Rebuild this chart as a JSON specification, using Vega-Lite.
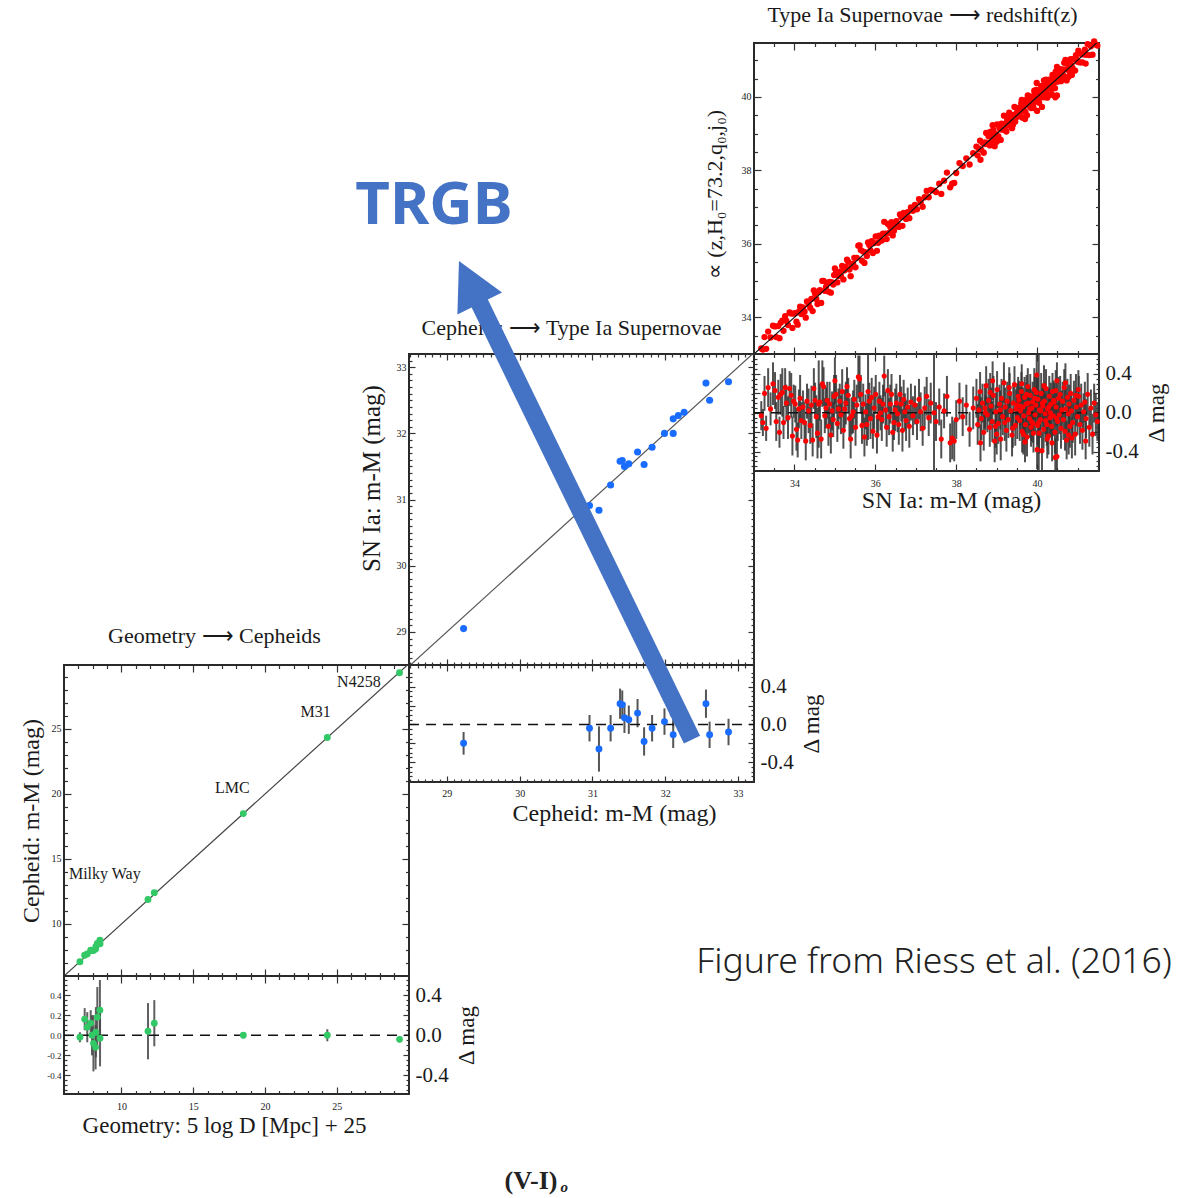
{
"$schema": "https://vega.github.io/schema/vega-lite/v6.json",
"background": "white",
"padding": {"left": 18, "top": 3, "right": 5, "bottom": 5},
"config": {
  "view": {"stroke": null},
  "font": "Liberation Serif",
  "axis": {"domain": false, "grid": false, "labelFont": "Liberation Serif", "labelFontSize": 10, "labelColor": "#1a1a1a", "tickColor": "#333333", "tickWidth": 1.2, "titleFont": "Liberation Serif", "titleFontWeight": "normal", "titleColor": "#1a1a1a", "titleFontSize": 24, "labelOverlap": false, "labelBound": false, "labelFlush": false},
  "title": {"font": "Liberation Serif", "fontWeight": "normal", "fontSize": 22, "color": "#1a1a1a"}
},
"datasets": {
  "geo": [
    {"x":7.11,"y":7.09,"r":-0.02,"e":0.05},
    {"x":7.44,"y":7.6,"r":0.16,"e":0.11},
    {"x":7.62,"y":7.7,"r":0.08,"e":0.15},
    {"x":7.86,"y":7.98,"r":0.12,"e":0.13},
    {"x":7.95,"y":7.95,"r":0.0,"e":0.2},
    {"x":8.05,"y":7.97,"r":-0.08,"e":0.28},
    {"x":8.2,"y":8.08,"r":-0.12,"e":0.22},
    {"x":8.22,"y":8.25,"r":0.03,"e":0.25},
    {"x":8.32,"y":8.5,"r":0.18,"e":0.3},
    {"x":8.5,"y":8.75,"r":0.25,"e":0.3},
    {"x":8.51,"y":8.48,"r":-0.03,"e":0.28},
    {"x":11.85,"y":11.89,"r":0.04,"e":0.28},
    {"x":12.29,"y":12.41,"r":0.12,"e":0.23},
    {"x":18.49,"y":18.49,"r":0.0,"e":0.03},
    {"x":24.34,"y":24.34,"r":0.0,"e":0.06},
    {"x":29.37,"y":29.33,"r":-0.04,"e":0.03}
  ],
  "ceph": [
    {"x":29.23,"y":29.05,"r":-0.2,"e":0.12},
    {"x":30.96,"y":30.91,"r":-0.04,"e":0.14},
    {"x":31.09,"y":30.84,"r":-0.26,"e":0.24},
    {"x":31.25,"y":31.22,"r":-0.04,"e":0.14},
    {"x":31.38,"y":31.58,"r":0.22,"e":0.16},
    {"x":31.41,"y":31.59,"r":0.21,"e":0.15},
    {"x":31.44,"y":31.5,"r":0.07,"e":0.16},
    {"x":31.5,"y":31.54,"r":0.05,"e":0.15},
    {"x":31.62,"y":31.72,"r":0.12,"e":0.15},
    {"x":31.71,"y":31.53,"r":-0.18,"e":0.15},
    {"x":31.82,"y":31.79,"r":-0.04,"e":0.14},
    {"x":31.99,"y":32.0,"r":0.03,"e":0.14},
    {"x":32.11,"y":32.22,"r":0.11,"e":0.14},
    {"x":32.11,"y":32.0,"r":-0.11,"e":0.14},
    {"x":32.18,"y":32.27,"r":0.09,"e":0.14},
    {"x":32.26,"y":32.32,"r":0.06,"e":0.14},
    {"x":32.56,"y":32.76,"r":0.22,"e":0.15},
    {"x":32.61,"y":32.5,"r":-0.11,"e":0.14},
    {"x":32.87,"y":32.78,"r":-0.08,"e":0.14}
  ],
  "sn": [
    {"x":33.18,"y":33.15,"r":-0.03,"e":0.15},{"x":33.22,"y":33.12,"r":-0.1,"e":0.14},{"x":33.26,"y":33.46,"r":0.2,"e":0.18},{"x":33.3,"y":33.14,"r":-0.16,"e":0.13},
    {"x":33.35,"y":33.61,"r":0.26,"e":0.2},{"x":33.41,"y":33.45,"r":0.04,"e":0.17},{"x":33.47,"y":33.77,"r":0.3,"e":0.22},{"x":33.52,"y":33.75,"r":0.23,"e":0.19},
    {"x":33.55,"y":33.46,"r":-0.09,"e":0.2},{"x":33.6,"y":33.76,"r":0.16,"e":0.18},{"x":33.63,"y":33.43,"r":-0.2,"e":0.16},{"x":33.66,"y":33.85,"r":0.19,"e":0.21},
    {"x":33.7,"y":33.91,"r":0.21,"e":0.25},{"x":33.73,"y":33.63,"r":-0.1,"e":0.17},{"x":33.77,"y":34.03,"r":0.26,"e":0.2},{"x":33.8,"y":33.9,"r":0.1,"e":0.19},
    {"x":33.84,"y":33.79,"r":-0.05,"e":0.22},{"x":33.88,"y":34.13,"r":0.25,"e":0.18},{"x":33.92,"y":34.1,"r":0.18,"e":0.23},{"x":33.95,"y":33.71,"r":-0.24,"e":0.2},
    {"x":33.98,"y":34.1,"r":0.12,"e":0.17},{"x":34.02,"y":34.11,"r":0.09,"e":0.19},
    {"x":34.05,"y":33.88,"r":-0.17,"e":0.22},{"x":34.08,"y":33.8,"r":-0.28,"e":0.18},{"x":34.11,"y":34.15,"r":0.04,"e":0.2},{"x":34.14,"y":34.29,"r":0.15,"e":0.24},
    {"x":34.17,"y":34.09,"r":-0.08,"e":0.19},{"x":34.21,"y":34.27,"r":0.06,"e":0.17},{"x":34.25,"y":34.15,"r":-0.1,"e":0.21},{"x":34.28,"y":33.99,"r":-0.29,"e":0.2},
    {"x":34.31,"y":34.43,"r":0.12,"e":0.18},{"x":34.35,"y":34.37,"r":0.02,"e":0.23},{"x":34.39,"y":34.26,"r":-0.13,"e":0.19},{"x":34.42,"y":34.5,"r":0.08,"e":0.2},
    {"x":34.45,"y":34.17,"r":-0.28,"e":0.17},{"x":34.48,"y":34.73,"r":0.25,"e":0.21},{"x":34.51,"y":34.64,"r":0.13,"e":0.18},{"x":34.54,"y":34.5,"r":-0.04,"e":0.22},
    {"x":34.57,"y":34.36,"r":-0.21,"e":0.26},{"x":34.6,"y":34.69,"r":0.09,"e":0.45},{"x":34.63,"y":34.74,"r":0.11,"e":0.19},{"x":34.66,"y":34.39,"r":-0.27,"e":0.2},
    {"x":34.69,"y":34.99,"r":0.3,"e":0.24},{"x":34.72,"y":34.99,"r":0.27,"e":0.2},{"x":34.75,"y":34.72,"r":-0.03,"e":0.18},{"x":34.78,"y":34.83,"r":0.05,"e":0.21},
    {"x":34.81,"y":34.94,"r":0.13,"e":0.19},{"x":34.84,"y":34.7,"r":-0.14,"e":0.2},{"x":34.87,"y":34.96,"r":0.09,"e":0.23},{"x":34.9,"y":34.67,"r":-0.23,"e":0.19},
    {"x":34.93,"y":34.95,"r":0.02,"e":0.2},{"x":34.96,"y":34.89,"r":-0.07,"e":0.18},{"x":34.98,"y":35.15,"r":0.17,"e":0.22},{"x":35.0,"y":35.33,"r":0.33,"e":0.24},
    {"x":35.03,"y":35.22,"r":0.19,"e":0.2},{"x":35.06,"y":34.95,"r":-0.11,"e":0.19},{"x":35.09,"y":35.13,"r":0.04,"e":0.21},{"x":35.12,"y":35.24,"r":0.12,"e":0.18},
    {"x":35.15,"y":35.13,"r":-0.02,"e":0.2},{"x":35.18,"y":35.4,"r":0.22,"e":0.23},{"x":35.21,"y":35.03,"r":-0.18,"e":0.19},{"x":35.24,"y":35.28,"r":0.04,"e":0.2},
    {"x":35.27,"y":35.37,"r":0.1,"e":0.22},{"x":35.3,"y":35.57,"r":0.27,"e":0.2},{"x":35.33,"y":35.51,"r":0.18,"e":0.18},{"x":35.36,"y":35.3,"r":-0.06,"e":0.21},
    {"x":35.39,"y":35.12,"r":-0.27,"e":0.2},{"x":35.42,"y":35.39,"r":-0.03,"e":0.19},{"x":35.45,"y":35.46,"r":0.01,"e":0.22},{"x":35.48,"y":35.62,"r":0.14,"e":0.2},
    {"x":35.51,"y":35.36,"r":-0.15,"e":0.19},{"x":35.54,"y":35.62,"r":0.08,"e":0.21},{"x":35.58,"y":35.95,"r":0.37,"e":0.22},{"x":35.61,"y":35.96,"r":0.35,"e":0.24},
    {"x":35.64,"y":35.83,"r":0.19,"e":0.2},{"x":35.67,"y":35.54,"r":-0.13,"e":0.19},{"x":35.7,"y":35.79,"r":0.09,"e":0.21},{"x":35.73,"y":35.48,"r":-0.25,"e":0.2},
    {"x":35.76,"y":35.77,"r":0.01,"e":0.18},{"x":35.79,"y":35.67,"r":-0.12,"e":0.22},{"x":35.82,"y":36.04,"r":0.22,"e":0.5},{"x":35.85,"y":35.97,"r":0.12,"e":0.19},
    {"x":35.88,"y":35.82,"r":-0.06,"e":0.21},{"x":35.91,"y":36.07,"r":0.16,"e":0.2},{"x":35.94,"y":35.75,"r":-0.19,"e":0.18},{"x":35.97,"y":36.02,"r":0.05,"e":0.22},
    {"x":36.01,"y":36.2,"r":0.19,"e":0.2},{"x":36.04,"y":35.81,"r":-0.23,"e":0.19},{"x":36.07,"y":36.03,"r":-0.04,"e":0.21},{"x":36.1,"y":36.22,"r":0.12,"e":0.2},
    {"x":36.13,"y":36.13,"r":0.0,"e":0.18},{"x":36.16,"y":36.09,"r":-0.07,"e":0.22},{"x":36.19,"y":36.28,"r":0.09,"e":0.2},{"x":36.22,"y":36.6,"r":0.38,"e":0.21},
    {"x":36.25,"y":36.28,"r":0.03,"e":0.19},{"x":36.28,"y":36.13,"r":-0.15,"e":0.2},{"x":36.31,"y":36.54,"r":0.23,"e":0.22},{"x":36.34,"y":36.3,"r":-0.04,"e":0.19},
    {"x":36.37,"y":36.46,"r":0.09,"e":0.2},{"x":36.4,"y":36.59,"r":0.19,"e":0.21},{"x":36.43,"y":36.23,"r":-0.2,"e":0.2},{"x":36.46,"y":36.36,"r":-0.1,"e":0.18},
    {"x":36.49,"y":36.52,"r":0.03,"e":0.22},{"x":36.52,"y":36.62,"r":0.1,"e":0.2},{"x":36.55,"y":36.54,"r":-0.01,"e":0.19},{"x":36.58,"y":36.46,"r":-0.12,"e":0.21},
    {"x":36.61,"y":36.8,"r":0.19,"e":0.2},{"x":36.64,"y":36.73,"r":0.09,"e":0.18},{"x":36.67,"y":36.49,"r":-0.18,"e":0.22},{"x":36.7,"y":36.84,"r":0.14,"e":0.2},
    {"x":36.73,"y":36.74,"r":0.01,"e":0.19},{"x":36.76,"y":36.68,"r":-0.08,"e":0.21},{"x":36.8,"y":36.86,"r":0.06,"e":0.2},{"x":36.84,"y":36.7,"r":-0.14,"e":0.22},
    {"x":36.88,"y":36.99,"r":0.11,"e":0.19},{"x":36.93,"y":36.9,"r":-0.03,"e":0.2},
    {"x":36.98,"y":37.06,"r":0.08,"e":0.2},{"x":37.03,"y":36.94,"r":-0.09,"e":0.19},{"x":37.08,"y":37.22,"r":0.14,"e":0.21},{"x":37.12,"y":37.13,"r":0.01,"e":0.2},
    {"x":37.17,"y":37.01,"r":-0.16,"e":0.18},{"x":37.22,"y":37.27,"r":0.05,"e":0.22},{"x":37.27,"y":37.44,"r":0.17,"e":0.2},{"x":37.32,"y":37.27,"r":-0.05,"e":0.19},
    {"x":37.37,"y":37.47,"r":0.1,"e":0.21},{"x":37.45,"y":37.45,"r":0.0,"e":0.9},{"x":37.5,"y":37.41,"r":-0.09,"e":0.2},{"x":37.58,"y":37.64,"r":0.06,"e":0.19},
    {"x":37.63,"y":37.36,"r":-0.27,"e":0.2},{"x":37.7,"y":37.72,"r":0.02,"e":0.18},{"x":37.77,"y":37.94,"r":0.17,"e":0.21},{"x":37.85,"y":37.54,"r":-0.31,"e":0.2},
    {"x":37.9,"y":37.64,"r":-0.26,"e":0.22},{"x":37.95,"y":37.66,"r":-0.29,"e":0.21},{"x":38.0,"y":37.93,"r":-0.07,"e":0.2},{"x":38.08,"y":38.2,"r":0.12,"e":0.19},
    {"x":38.16,"y":38.12,"r":-0.04,"e":0.2},{"x":38.25,"y":38.33,"r":0.08,"e":0.21},{"x":38.33,"y":38.16,"r":-0.17,"e":0.18},{"x":38.42,"y":38.47,"r":0.05,"e":0.22},
    {"x":38.5,"y":38.65,"r":0.15,"e":0.2},{"x":38.53,"y":38.41,"r":-0.12,"e":0.21},{"x":38.56,"y":38.59,"r":0.03,"e":0.19},{"x":38.59,"y":38.81,"r":0.22,"e":0.2},
    {"x":38.62,"y":38.56,"r":-0.06,"e":0.22},{"x":38.65,"y":38.75,"r":0.1,"e":0.2},{"x":38.68,"y":38.48,"r":-0.2,"e":0.19},{"x":38.71,"y":38.76,"r":0.05,"e":0.21},
    {"x":38.74,"y":39.02,"r":0.28,"e":0.2},{"x":38.77,"y":38.75,"r":-0.02,"e":0.18},{"x":38.8,"y":38.93,"r":0.13,"e":0.22},{"x":38.83,"y":38.68,"r":-0.15,"e":0.2},
    {"x":38.86,"y":38.93,"r":0.07,"e":0.19},{"x":38.89,"y":38.8,"r":-0.09,"e":0.21},{"x":38.92,"y":39.1,"r":0.18,"e":0.2},{"x":38.95,"y":38.66,"r":-0.29,"e":0.22},
    {"x":38.98,"y":38.99,"r":0.01,"e":0.2},{"x":39.01,"y":39.25,"r":0.24,"e":0.19},{"x":39.04,"y":38.93,"r":-0.11,"e":0.21},{"x":39.07,"y":39.16,"r":0.09,"e":0.2},
    {"x":39.1,"y":38.83,"r":-0.27,"e":0.22},{"x":39.12,"y":39.27,"r":0.15,"e":0.2},{"x":39.15,"y":39.11,"r":-0.04,"e":0.19},{"x":39.18,"y":39.49,"r":0.31,"e":0.21},
    {"x":39.21,"y":39.27,"r":0.06,"e":0.2},{"x":39.24,"y":39.06,"r":-0.18,"e":0.22},{"x":39.26,"y":39.38,"r":0.12,"e":0.2},{"x":39.29,"y":39.22,"r":-0.07,"e":0.19},
    {"x":39.32,"y":39.52,"r":0.2,"e":0.21},{"x":39.35,"y":39.37,"r":0.02,"e":0.2},{"x":39.38,"y":39.15,"r":-0.23,"e":0.22},{"x":39.41,"y":39.51,"r":0.1,"e":0.2},
    {"x":39.44,"y":39.73,"r":0.29,"e":0.19},{"x":39.46,"y":39.33,"r":-0.13,"e":0.21},{"x":39.48,"y":39.52,"r":0.04,"e":0.2},{"x":39.51,"y":39.46,"r":-0.05,"e":0.22},
    {"x":39.53,"y":39.7,"r":0.17,"e":0.2},{"x":38.6,"y":38.29,"r":-0.31,"e":0.19},{"x":38.9,"y":39.23,"r":0.33,"e":0.2},{"x":39.0,"y":38.78,"r":-0.22,"e":0.21},
    {"x":38.72,"y":38.72,"r":0.0,"e":0.18},{"x":38.84,"y":39.05,"r":0.21,"e":0.2},{"x":38.97,"y":38.83,"r":-0.14,"e":0.22},{"x":39.09,"y":39.12,"r":0.03,"e":0.2},
    {"x":39.2,"y":39.1,"r":-0.1,"e":0.19},{"x":39.31,"y":39.57,"r":0.26,"e":0.21},{"x":39.4,"y":39.24,"r":-0.16,"e":0.2},{"x":39.5,"y":39.58,"r":0.08,"e":0.22},
    {"x":39.55,"y":39.68,"r":0.13,"e":0.2},{"x":39.57,"y":39.49,"r":-0.08,"e":0.21},{"x":39.59,"y":39.61,"r":0.02,"e":0.19},{"x":39.61,"y":39.83,"r":0.22,"e":0.2},
    {"x":39.63,"y":39.44,"r":-0.19,"e":0.22},{"x":39.65,"y":39.71,"r":0.06,"e":0.2},{"x":39.67,"y":39.64,"r":-0.03,"e":0.19},{"x":39.69,"y":39.85,"r":0.16,"e":0.21},
    {"x":39.71,"y":39.59,"r":-0.12,"e":0.2},{"x":39.73,"y":39.82,"r":0.09,"e":0.22},{"x":39.75,"y":39.5,"r":-0.25,"e":0.2},{"x":39.77,"y":40.04,"r":0.27,"e":0.19},
    {"x":39.79,"y":39.79,"r":0.0,"e":0.21},{"x":39.81,"y":39.75,"r":-0.06,"e":0.2},{"x":39.83,"y":40.01,"r":0.18,"e":0.22},{"x":39.85,"y":39.7,"r":-0.15,"e":0.2},
    {"x":39.87,"y":39.92,"r":0.05,"e":0.19},{"x":39.89,"y":40.0,"r":0.11,"e":0.21},{"x":39.91,"y":39.7,"r":-0.21,"e":0.2},{"x":39.93,"y":40.17,"r":0.24,"e":0.22},
    {"x":39.95,"y":39.93,"r":-0.02,"e":0.2},{"x":39.97,"y":40.05,"r":0.08,"e":0.19},{"x":39.99,"y":40.38,"r":0.39,"e":0.21},{"x":40.0,"y":39.62,"r":-0.38,"e":0.2},
    {"x":40.02,"y":40.16,"r":0.14,"e":0.22},{"x":40.04,"y":39.94,"r":-0.1,"e":0.9},{"x":40.06,"y":40.09,"r":0.03,"e":0.2},{"x":40.08,"y":40.01,"r":-0.07,"e":0.19},
    {"x":40.1,"y":40.3,"r":0.2,"e":0.21},{"x":40.12,"y":39.73,"r":-0.39,"e":0.2},{"x":40.14,"y":40.21,"r":0.07,"e":0.22},{"x":40.16,"y":39.99,"r":-0.17,"e":0.2},
    {"x":40.18,"y":40.3,"r":0.12,"e":0.19},{"x":40.2,"y":40.19,"r":-0.01,"e":0.21},{"x":40.22,"y":40.47,"r":0.25,"e":0.2},{"x":40.24,"y":40.12,"r":-0.12,"e":0.22},
    {"x":40.26,"y":40.3,"r":0.04,"e":0.2},{"x":40.28,"y":40.04,"r":-0.24,"e":0.19},{"x":40.3,"y":40.47,"r":0.17,"e":0.21},{"x":40.32,"y":40.27,"r":-0.05,"e":0.2},
    {"x":40.34,"y":40.43,"r":0.09,"e":0.22},{"x":40.36,"y":40.22,"r":-0.14,"e":0.2},{"x":40.38,"y":40.6,"r":0.22,"e":0.19},{"x":40.4,"y":40.37,"r":-0.03,"e":0.21},
    {"x":40.42,"y":40.53,"r":0.11,"e":0.2},{"x":40.44,"y":40.24,"r":-0.2,"e":0.22},{"x":40.45,"y":39.99,"r":-0.46,"e":0.2},{"x":40.47,"y":40.53,"r":0.06,"e":0.2},
    {"x":40.49,"y":40.82,"r":0.33,"e":0.19},{"x":40.49,"y":40.04,"r":-0.45,"e":0.21},{"x":40.51,"y":40.42,"r":-0.09,"e":0.2},{"x":40.53,"y":40.68,"r":0.15,"e":0.22},
    {"x":40.55,"y":40.53,"r":-0.02,"e":0.2},{"x":40.57,"y":40.76,"r":0.19,"e":0.19},{"x":40.59,"y":40.43,"r":-0.16,"e":0.21},{"x":40.61,"y":40.64,"r":0.03,"e":0.2},
    {"x":39.62,"y":39.92,"r":0.3,"e":0.2},{"x":39.7,"y":39.4,"r":-0.3,"e":0.21},{"x":39.78,"y":39.88,"r":0.1,"e":0.19},{"x":39.86,"y":39.77,"r":-0.09,"e":0.2},
    {"x":39.94,"y":40.09,"r":0.15,"e":0.22},{"x":40.01,"y":39.88,"r":-0.13,"e":0.2},{"x":40.09,"y":40.11,"r":0.02,"e":0.19},{"x":40.17,"y":40.45,"r":0.28,"e":0.21},
    {"x":40.25,"y":39.98,"r":-0.27,"e":0.2},{"x":40.33,"y":40.33,"r":0.0,"e":0.22},{"x":40.41,"y":40.54,"r":0.13,"e":0.2},{"x":40.48,"y":40.42,"r":-0.06,"e":0.19},
    {"x":39.58,"y":39.65,"r":0.07,"e":0.2},{"x":39.66,"y":39.44,"r":-0.22,"e":0.21},{"x":39.74,"y":39.93,"r":0.19,"e":0.2},{"x":39.82,"y":39.86,"r":0.04,"e":0.22},
    {"x":39.9,"y":39.79,"r":-0.11,"e":0.2},{"x":39.98,"y":40.19,"r":0.21,"e":0.19},{"x":40.05,"y":39.84,"r":-0.21,"e":0.21},{"x":40.13,"y":40.23,"r":0.1,"e":0.2},
    {"x":40.21,"y":40.13,"r":-0.08,"e":0.22},{"x":40.29,"y":40.35,"r":0.06,"e":0.2},{"x":40.37,"y":40.06,"r":-0.31,"e":0.19},{"x":40.46,"y":40.69,"r":0.23,"e":0.21},
    {"x":40.63,"y":40.75,"r":0.12,"e":0.2},{"x":40.65,"y":40.58,"r":-0.07,"e":0.21},{"x":40.67,"y":40.93,"r":0.26,"e":0.19},{"x":40.69,"y":40.5,"r":-0.19,"e":0.2},
    {"x":40.71,"y":40.75,"r":0.04,"e":0.22},{"x":40.73,"y":40.45,"r":-0.28,"e":0.2},{"x":40.75,"y":40.91,"r":0.16,"e":0.19},{"x":40.77,"y":40.76,"r":-0.01,"e":0.21},
    {"x":40.79,"y":40.88,"r":0.09,"e":0.2},{"x":40.81,"y":40.67,"r":-0.14,"e":0.22},{"x":40.83,"y":41.03,"r":0.2,"e":0.2},{"x":40.85,"y":40.87,"r":0.02,"e":0.19},
    {"x":40.88,"y":40.78,"r":-0.1,"e":0.21},{"x":40.91,"y":41.04,"r":0.13,"e":0.2},{"x":40.94,"y":40.72,"r":-0.22,"e":0.22},{"x":40.97,"y":41.03,"r":0.06,"e":0.2},
    {"x":41.0,"y":40.96,"r":-0.04,"e":0.19},{"x":41.03,"y":41.2,"r":0.17,"e":0.21},{"x":41.06,"y":40.94,"r":-0.12,"e":0.2},{"x":41.09,"y":41.17,"r":0.08,"e":0.22},
    {"x":41.12,"y":40.94,"r":-0.18,"e":0.2},{"x":41.15,"y":41.16,"r":0.01,"e":0.19},{"x":41.18,"y":41.29,"r":0.11,"e":0.21},{"x":41.21,"y":41.15,"r":-0.06,"e":0.2},
    {"x":41.25,"y":41.44,"r":0.19,"e":0.22},{"x":41.29,"y":41.14,"r":-0.15,"e":0.2},{"x":41.33,"y":41.38,"r":0.05,"e":0.19},{"x":41.37,"y":41.15,"r":-0.22,"e":0.21},
    {"x":41.41,"y":41.51,"r":0.1,"e":0.2},{"x":41.45,"y":41.43,"r":-0.02,"e":0.22},{"x":41.49,"y":41.4,"r":-0.09,"e":0.2},{"x":40.7,"y":41.01,"r":0.31,"e":0.2},
    {"x":40.86,"y":40.6,"r":-0.26,"e":0.21},{"x":41.02,"y":41.26,"r":0.24,"e":0.2},{"x":41.2,"y":40.91,"r":-0.29,"e":0.19},{"x":40.78,"y":40.55,"r":-0.23,"e":0.2},
    {"x":40.96,"y":41.14,"r":0.18,"e":0.22}
  ]
},
"columns": 3,
"spacing": 0,
"bounds": "flush",
"concat": [
  {"width": 10, "height": 10, "data": {"values": [{"a": 0}]}, "mark": {"type": "point", "opacity": 0}},
  {
    "width": 345, "height": 311,
    "data": {"values": [{"t": "TRGB", "x": 0.0725, "y": 0.476}]},
    "mark": {"type": "text", "font": "Noto Sans", "fontWeight": "bold", "fontSize": 60, "color": "#4472C4", "align": "center", "baseline": "middle"},
    "encoding": {
      "x": {"field": "x", "type": "quantitative", "scale": {"domain": [0, 1]}, "axis": null},
      "y": {"field": "y", "type": "quantitative", "scale": {"domain": [0, 1]}, "axis": null},
      "text": {"field": "t"}
    }
  },
  {
    "width": 345, "height": 311,
    "view": {"stroke": "#2a2a2a", "strokeWidth": 2},
    "title": {"text": "Type Ia Supernovae ⟶ redshift(z)", "offset": 11, "dx": -4},
    "resolve": {"axis": {"x": "independent", "y": "independent"}},
    "layer": [
      {
        "data": {"name": "sn"},
        "mark": {"type": "circle", "color": "#ff0000", "size": 40, "opacity": 1},
        "encoding": {
          "x": {"field": "x", "type": "quantitative", "scale": {"domain": [33.0, 41.53], "nice": false, "zero": false},
                "axis": {"orient": "bottom", "values": [33.5,34,34.5,35,35.5,36,36.5,37,37.5,38,38.5,39,39.5,40,40.5,41,41.5], "labels": false, "title": null,
                         "tickSize": {"condition": {"test": "datum.value % 2 === 0", "value": -7}, "value": -3.5}}},
          "y": {"field": "y", "type": "quantitative", "scale": {"domain": [33.0, 41.47], "nice": false, "zero": false},
                "axis": {"orient": "left", "values": [33.5,34,34.5,35,35.5,36,36.5,37,37.5,38,38.5,39,39.5,40,40.5,41],
                         "labelExpr": "datum.value % 2 === 0 ? '' + datum.value : ''", "labelPadding": 10,
                         "tickSize": {"condition": {"test": "datum.value % 2 === 0", "value": -7}, "value": -3.5},
                         "title": "∝ (z,H₀=73.2,q₀,j₀)", "titleFontSize": 22, "titlePadding": 15, "titleY": 151}}
        }
      },
      {
        "data": {"values": [{"x": 33.0, "y": 33.0, "x2": 41.53, "y2": 41.53}]},
        "mark": {"type": "rule", "color": "#111111", "strokeWidth": 1.2, "clip": true},
        "encoding": {
          "x": {"field": "x", "type": "quantitative", "scale": {"domain": [33.0, 41.53], "nice": false, "zero": false},
                "axis": {"orient": "top", "values": [33.5,34,34.5,35,35.5,36,36.5,37,37.5,38,38.5,39,39.5,40,40.5,41,41.5], "labels": false, "title": null,
                         "tickSize": {"condition": {"test": "datum.value % 2 === 0", "value": -7}, "value": -3.5}}},
          "y": {"field": "y", "type": "quantitative", "scale": {"domain": [33.0, 41.47], "nice": false, "zero": false},
                "axis": {"orient": "right", "values": [33.5,34,34.5,35,35.5,36,36.5,37,37.5,38,38.5,39,39.5,40,40.5,41], "labels": false, "title": null,
                         "tickSize": {"condition": {"test": "datum.value % 2 === 0", "value": -7}, "value": -3.5}}},
          "x2": {"field": "x2"},
          "y2": {"field": "y2"}
        }
      }
    ]
  },
  {"width": 10, "height": 10, "data": {"values": [{"a": 0}]}, "mark": {"type": "point", "opacity": 0}},
  {
    "width": 345, "height": 311,
    "view": {"stroke": "#2a2a2a", "strokeWidth": 2},
    "title": {"text": "Cepheids ⟶ Type Ia Supernovae", "offset": 13, "dx": -10},
    "resolve": {"axis": {"x": "independent", "y": "independent"}},
    "layer": [
      {
        "data": {"values": [{"x": 28.48, "y": 28.48, "x2": 33.22, "y2": 33.22}]},
        "mark": {"type": "rule", "color": "#555555", "strokeWidth": 1.2, "clip": true},
        "encoding": {
          "x": {"field": "x", "type": "quantitative", "scale": {"domain": [28.48, 33.22], "nice": false, "zero": false},
                "axis": {"orient": "top", "values": [28.5,28.6,28.7,28.8,28.9,29,29.1,29.2,29.3,29.4,29.5,29.6,29.7,29.8,29.9,30,30.1,30.2,30.3,30.4,30.5,30.6,30.7,30.8,30.9,31,31.1,31.2,31.3,31.4,31.5,31.6,31.7,31.8,31.9,32,32.1,32.2,32.3,32.4,32.5,32.6,32.7,32.8,32.9,33,33.1,33.2], "labels": false, "title": null,
                         "tickSize": {"condition": {"test": "abs(datum.value - round(datum.value)) < 0.01", "value": -6}, "value": -3}}},
          "y": {"field": "y", "type": "quantitative", "scale": {"domain": [28.5, 33.2], "nice": false, "zero": false},
                "axis": {"orient": "right", "values": [28.6,28.7,28.8,28.9,29,29.1,29.2,29.3,29.4,29.5,29.6,29.7,29.8,29.9,30,30.1,30.2,30.3,30.4,30.5,30.6,30.7,30.8,30.9,31,31.1,31.2,31.3,31.4,31.5,31.6,31.7,31.8,31.9,32,32.1,32.2,32.3,32.4,32.5,32.6,32.7,32.8,32.9,33,33.1], "labels": false, "title": null,
                         "tickSize": {"condition": {"test": "abs(datum.value - round(datum.value)) < 0.01", "value": -6}, "value": -3}}},
          "x2": {"field": "x2"},
          "y2": {"field": "y2"}
        }
      },
      {
        "data": {"name": "ceph"},
        "mark": {"type": "circle", "color": "#1a6cff", "size": 50, "opacity": 1},
        "encoding": {
          "x": {"field": "x", "type": "quantitative", "scale": {"domain": [28.48, 33.22], "nice": false, "zero": false},
                "axis": {"orient": "bottom", "values": [28.5,28.6,28.7,28.8,28.9,29,29.1,29.2,29.3,29.4,29.5,29.6,29.7,29.8,29.9,30,30.1,30.2,30.3,30.4,30.5,30.6,30.7,30.8,30.9,31,31.1,31.2,31.3,31.4,31.5,31.6,31.7,31.8,31.9,32,32.1,32.2,32.3,32.4,32.5,32.6,32.7,32.8,32.9,33,33.1,33.2], "labels": false, "title": null,
                         "tickSize": {"condition": {"test": "abs(datum.value - round(datum.value)) < 0.01", "value": -6}, "value": -3}}},
          "y": {"field": "y", "type": "quantitative", "scale": {"domain": [28.5, 33.2], "nice": false, "zero": false},
                "axis": {"orient": "left", "values": [28.6,28.7,28.8,28.9,29,29.1,29.2,29.3,29.4,29.5,29.6,29.7,29.8,29.9,30,30.1,30.2,30.3,30.4,30.5,30.6,30.7,30.8,30.9,31,31.1,31.2,31.3,31.4,31.5,31.6,31.7,31.8,31.9,32,32.1,32.2,32.3,32.4,32.5,32.6,32.7,32.8,32.9,33,33.1],
                         "labelExpr": "abs(datum.value - round(datum.value)) < 0.01 ? '' + round(datum.value) : ''", "labelPadding": 9,
                         "tickSize": {"condition": {"test": "abs(datum.value - round(datum.value)) < 0.01", "value": -6}, "value": -3},
                         "title": "SN Ia: m-M (mag)", "titleFontSize": 25, "titlePadding": 12, "titleY": 124}}
        }
      }
    ]
  },
  {
    "width": 345, "height": 117,
    "view": {"stroke": "#2a2a2a", "strokeWidth": 2},
    "resolve": {"axis": {"x": "independent", "y": "independent"}},
    "layer": [
      {
        "data": {"name": "sn"},
        "mark": {"type": "errorbar", "color": "#333333", "thickness": 2, "opacity": 0.85},
        "encoding": {
          "x": {"field": "x", "type": "quantitative", "scale": {"domain": [33.0, 41.53], "nice": false, "zero": false}, "axis": null},
          "y": {"field": "r", "type": "quantitative", "scale": {"domain": [-0.6, 0.606], "nice": false, "zero": false, "clamp": true}, "axis": null},
          "yError": {"field": "e"}
        }
      },
      {
        "data": {"values": [{"x": 33.0, "x2": 41.53, "y": 0}]},
        "mark": {"type": "rule", "color": "#111111", "strokeWidth": 1.5, "strokeDash": [10, 7]},
        "encoding": {
          "x": {"field": "x", "type": "quantitative", "scale": {"domain": [33.0, 41.53], "nice": false, "zero": false},
                "axis": {"orient": "top", "values": [33.5,34,34.5,35,35.5,36,36.5,37,37.5,38,38.5,39,39.5,40,40.5,41,41.5], "labels": false, "title": null,
                         "tickSize": {"condition": {"test": "datum.value % 2 === 0", "value": -7}, "value": -3.5}}},
          "x2": {"field": "x2"},
          "y": {"field": "y", "type": "quantitative", "scale": {"domain": [-0.6, 0.606], "nice": false, "zero": false, "clamp": true},
                "axis": {"orient": "right", "values": [-0.55,-0.5,-0.45,-0.4,-0.35,-0.3,-0.25,-0.2,-0.15,-0.1,-0.05,0,0.05,0.1,0.15,0.2,0.25,0.3,0.35,0.4,0.45,0.5,0.55],
                         "labelExpr": "abs(datum.value) < 0.01 ? '0.0' : abs(datum.value - 0.4) < 0.01 ? '0.4' : abs(datum.value + 0.4) < 0.01 ? '-0.4' : ''",
                         "labelFontSize": 21, "labelPadding": 12,
                         "tickSize": {"condition": {"test": "abs(datum.value*5 - round(datum.value*5)) < 0.01", "value": -6}, "value": -3},
                         "title": "Δ mag", "titleFontSize": 23, "titleAngle": 270, "titlePadding": 30}}
        }
      },
      {
        "data": {"name": "sn"},
        "mark": {"type": "circle", "color": "#ff0000", "size": 26, "opacity": 1},
        "encoding": {
          "x": {"field": "x", "type": "quantitative", "scale": {"domain": [33.0, 41.53], "nice": false, "zero": false},
                "axis": {"orient": "bottom", "values": [33.5,34,34.5,35,35.5,36,36.5,37,37.5,38,38.5,39,39.5,40,40.5,41,41.5],
                         "labelExpr": "datum.value % 2 === 0 ? '' + datum.value : ''", "labelPadding": 14,
                         "tickSize": {"condition": {"test": "datum.value % 2 === 0", "value": -7}, "value": -3.5},
                         "title": "SN Ia: m-M (mag)", "titleX": 197, "titlePadding": -3}},
          "y": {"field": "r", "type": "quantitative", "scale": {"domain": [-0.6, 0.606], "nice": false, "zero": false, "clamp": true},
                "axis": {"orient": "left", "values": [-0.55,-0.5,-0.45,-0.4,-0.35,-0.3,-0.25,-0.2,-0.15,-0.1,-0.05,0,0.05,0.1,0.15,0.2,0.25,0.3,0.35,0.4,0.45,0.5,0.55], "labels": false, "title": null,
                         "tickSize": {"condition": {"test": "abs(datum.value*5 - round(datum.value*5)) < 0.01", "value": -6}, "value": -3}}}
        }
      }
    ]
  },
  {
    "width": 345, "height": 311,
    "view": {"stroke": "#2a2a2a", "strokeWidth": 2},
    "title": {"text": "Geometry ⟶ Cepheids", "offset": 16, "dx": -22},
    "resolve": {"axis": {"x": "independent", "y": "independent"}},
    "layer": [
      {
        "data": {"values": [{"x": 6.0, "y": 6.0, "x2": 30.03, "y2": 30.03}]},
        "mark": {"type": "rule", "color": "#444444", "strokeWidth": 1.2, "clip": true},
        "encoding": {
          "x": {"field": "x", "type": "quantitative", "scale": {"domain": [6.0, 30.03], "nice": false, "zero": false},
                "axis": {"orient": "top", "values": [7,8,9,10,11,12,13,14,15,16,17,18,19,20,21,22,23,24,25,26,27,28,29], "labels": false, "title": null,
                         "tickSize": {"condition": {"test": "datum.value % 5 === 0", "value": -7}, "value": -3.5}}},
          "y": {"field": "y", "type": "quantitative", "scale": {"domain": [6.0, 29.92], "nice": false, "zero": false},
                "axis": {"orient": "right", "values": [7,8,9,10,11,12,13,14,15,16,17,18,19,20,21,22,23,24,25,26,27,28,29], "labels": false, "title": null,
                         "tickSize": {"condition": {"test": "datum.value % 5 === 0", "value": -7}, "value": -3.5}}},
          "x2": {"field": "x2"},
          "y2": {"field": "y2"}
        }
      },
      {
        "data": {"name": "geo"},
        "mark": {"type": "circle", "color": "#33c866", "size": 48, "opacity": 1},
        "encoding": {
          "x": {"field": "x", "type": "quantitative", "scale": {"domain": [6.0, 30.03], "nice": false, "zero": false},
                "axis": {"orient": "bottom", "values": [7,8,9,10,11,12,13,14,15,16,17,18,19,20,21,22,23,24,25,26,27,28,29], "labels": false, "title": null,
                         "tickSize": {"condition": {"test": "datum.value % 5 === 0", "value": -7}, "value": -3.5}}},
          "y": {"field": "y", "type": "quantitative", "scale": {"domain": [6.0, 29.92], "nice": false, "zero": false},
                "axis": {"orient": "left", "values": [7,8,9,10,11,12,13,14,15,16,17,18,19,20,21,22,23,24,25,26,27,28,29],
                         "labelExpr": "datum.value % 5 === 0 ? '' + datum.value : ''", "labelPadding": 10,
                         "tickSize": {"condition": {"test": "datum.value % 5 === 0", "value": -7}, "value": -3.5},
                         "title": "Cepheid: m-M (mag)", "titlePadding": 8}}
        }
      },
      {
        "data": {"values": [
          {"t": "N4258", "x": 26.54, "y": 28.64},
          {"t": "M31", "x": 23.53, "y": 26.33},
          {"t": "LMC", "x": 17.72, "y": 20.44},
          {"t": "Milky Way", "x": 8.84, "y": 13.82}
        ]},
        "mark": {"type": "text", "font": "Liberation Serif", "fontSize": 16, "color": "#1a1a1a", "align": "center", "baseline": "middle"},
        "encoding": {
          "x": {"field": "x", "type": "quantitative", "scale": {"domain": [6.0, 30.03], "nice": false, "zero": false}, "axis": null},
          "y": {"field": "y", "type": "quantitative", "scale": {"domain": [6.0, 29.92], "nice": false, "zero": false}, "axis": null},
          "text": {"field": "t"}
        }
      }
    ]
  },
  {
    "width": 345, "height": 117,
    "view": {"stroke": "#2a2a2a", "strokeWidth": 2},
    "resolve": {"axis": {"x": "independent", "y": "independent"}},
    "layer": [
      {
        "data": {"name": "ceph"},
        "mark": {"type": "errorbar", "color": "#555555", "thickness": 2},
        "encoding": {
          "x": {"field": "x", "type": "quantitative", "scale": {"domain": [28.48, 33.22], "nice": false, "zero": false}, "axis": null},
          "y": {"field": "r", "type": "quantitative", "scale": {"domain": [-0.61, 0.63], "nice": false, "zero": false, "clamp": true}, "axis": null},
          "yError": {"field": "e"}
        }
      },
      {
        "data": {"values": [{"x": 28.48, "x2": 33.22, "y": 0}]},
        "mark": {"type": "rule", "color": "#111111", "strokeWidth": 1.5, "strokeDash": [10, 7]},
        "encoding": {
          "x": {"field": "x", "type": "quantitative", "scale": {"domain": [28.48, 33.22], "nice": false, "zero": false},
                "axis": {"orient": "top", "values": [28.5,28.6,28.7,28.8,28.9,29,29.1,29.2,29.3,29.4,29.5,29.6,29.7,29.8,29.9,30,30.1,30.2,30.3,30.4,30.5,30.6,30.7,30.8,30.9,31,31.1,31.2,31.3,31.4,31.5,31.6,31.7,31.8,31.9,32,32.1,32.2,32.3,32.4,32.5,32.6,32.7,32.8,32.9,33,33.1,33.2], "labels": false, "title": null,
                         "tickSize": {"condition": {"test": "abs(datum.value - round(datum.value)) < 0.01", "value": -6}, "value": -3}}},
          "x2": {"field": "x2"},
          "y": {"field": "y", "type": "quantitative", "scale": {"domain": [-0.61, 0.63], "nice": false, "zero": false, "clamp": true},
                "axis": {"orient": "right", "values": [-0.55,-0.5,-0.45,-0.4,-0.35,-0.3,-0.25,-0.2,-0.15,-0.1,-0.05,0,0.05,0.1,0.15,0.2,0.25,0.3,0.35,0.4,0.45,0.5,0.55],
                         "labelExpr": "abs(datum.value) < 0.01 ? '0.0' : abs(datum.value - 0.4) < 0.01 ? '0.4' : abs(datum.value + 0.4) < 0.01 ? '-0.4' : ''",
                         "labelFontSize": 21, "labelPadding": 12,
                         "tickSize": {"condition": {"test": "abs(datum.value*5 - round(datum.value*5)) < 0.01", "value": -6}, "value": -3},
                         "title": "Δ mag", "titleFontSize": 23, "titleAngle": 270, "titlePadding": 30}}
        }
      },
      {
        "data": {"name": "ceph"},
        "mark": {"type": "circle", "color": "#1a6cff", "size": 48, "opacity": 1},
        "encoding": {
          "x": {"field": "x", "type": "quantitative", "scale": {"domain": [28.48, 33.22], "nice": false, "zero": false},
                "axis": {"orient": "bottom", "values": [28.5,28.6,28.7,28.8,28.9,29,29.1,29.2,29.3,29.4,29.5,29.6,29.7,29.8,29.9,30,30.1,30.2,30.3,30.4,30.5,30.6,30.7,30.8,30.9,31,31.1,31.2,31.3,31.4,31.5,31.6,31.7,31.8,31.9,32,32.1,32.2,32.3,32.4,32.5,32.6,32.7,32.8,32.9,33,33.1,33.2],
                         "labelExpr": "abs(datum.value - round(datum.value)) < 0.01 ? '' + round(datum.value) : ''", "labelPadding": 12,
                         "tickSize": {"condition": {"test": "abs(datum.value - round(datum.value)) < 0.01", "value": -6}, "value": -3},
                         "title": "Cepheid: m-M (mag)", "titleX": 205, "titlePadding": 0}},
          "y": {"field": "r", "type": "quantitative", "scale": {"domain": [-0.61, 0.63], "nice": false, "zero": false, "clamp": true},
                "axis": {"orient": "left", "values": [-0.55,-0.5,-0.45,-0.4,-0.35,-0.3,-0.25,-0.2,-0.15,-0.1,-0.05,0,0.05,0.1,0.15,0.2,0.25,0.3,0.35,0.4,0.45,0.5,0.55], "labels": false, "title": null,
                         "tickSize": {"condition": {"test": "abs(datum.value*5 - round(datum.value*5)) < 0.01", "value": -6}, "value": -3}}}
        }
      }
    ]
  },
  {
    "width": 345, "height": 311,
    "layer": [
      {
        "data": {"values": [{"t": "Figure from Riess et al. (2016)", "x": 0.5217, "y": 0.045}]},
        "mark": {"type": "text", "font": "Noto Sans", "fontSize": 35.5, "fontWeight": 300, "color": "#222222", "align": "center", "baseline": "middle"},
        "encoding": {
          "x": {"field": "x", "type": "quantitative", "scale": {"domain": [0, 1]}, "axis": null},
          "y": {"field": "y", "type": "quantitative", "scale": {"domain": [0, 1]}, "axis": null},
          "text": {"field": "t"}
        }
      },
      {
        "data": {"values": [{"x": -0.1797, "y": 0.7601, "x2": -0.7988, "y2": 2.1711}]},
        "mark": {"type": "rule", "color": "#4472C4", "strokeWidth": 18, "strokeCap": "butt"},
        "encoding": {
          "x": {"field": "x", "type": "quantitative", "scale": {"domain": [0, 1]}, "axis": null},
          "y": {"field": "y", "type": "quantitative", "scale": {"domain": [0, 1]}, "axis": null},
          "x2": {"field": "x2"},
          "y2": {"field": "y2"}
        }
      },
      {
        "data": {"values": [{"x": -0.8251, "y": 2.2307}]},
        "mark": {"type": "point", "shape": "M0,-1L1.05,1L-1.05,1Z", "filled": true, "color": "#4472C4", "size": 2237, "angle": 334, "opacity": 1, "strokeWidth": 0},
        "encoding": {
          "x": {"field": "x", "type": "quantitative", "scale": {"domain": [0, 1]}, "axis": null},
          "y": {"field": "y", "type": "quantitative", "scale": {"domain": [0, 1]}, "axis": null}
        }
      }
    ]
  },
  {
    "width": 345, "height": 118,
    "view": {"stroke": "#2a2a2a", "strokeWidth": 2},
    "resolve": {"axis": {"x": "independent", "y": "independent"}},
    "layer": [
      {
        "data": {"name": "geo"},
        "mark": {"type": "errorbar", "color": "#444444", "thickness": 2, "opacity": 0.85},
        "encoding": {
          "x": {"field": "x", "type": "quantitative", "scale": {"domain": [6.0, 30.03], "nice": false, "zero": false}, "axis": null},
          "y": {"field": "r", "type": "quantitative", "scale": {"domain": [-0.585, 0.59], "nice": false, "zero": false, "clamp": true}, "axis": null},
          "yError": {"field": "e"}
        }
      },
      {
        "data": {"values": [{"x": 6.0, "x2": 30.03, "y": 0}]},
        "mark": {"type": "rule", "color": "#111111", "strokeWidth": 1.5, "strokeDash": [10, 7]},
        "encoding": {
          "x": {"field": "x", "type": "quantitative", "scale": {"domain": [6.0, 30.03], "nice": false, "zero": false},
                "axis": {"orient": "top", "values": [7,8,9,10,11,12,13,14,15,16,17,18,19,20,21,22,23,24,25,26,27,28,29], "labels": false, "title": null,
                         "tickSize": {"condition": {"test": "datum.value % 5 === 0", "value": -7}, "value": -3.5}}},
          "x2": {"field": "x2"},
          "y": {"field": "y", "type": "quantitative", "scale": {"domain": [-0.585, 0.59], "nice": false, "zero": false, "clamp": true},
                "axis": {"orient": "right", "values": [-0.55,-0.5,-0.45,-0.4,-0.35,-0.3,-0.25,-0.2,-0.15,-0.1,-0.05,0,0.05,0.1,0.15,0.2,0.25,0.3,0.35,0.4,0.45,0.5,0.55],
                         "labelExpr": "abs(datum.value) < 0.01 ? '0.0' : abs(datum.value - 0.4) < 0.01 ? '0.4' : abs(datum.value + 0.4) < 0.01 ? '-0.4' : ''",
                         "labelFontSize": 21, "labelPadding": 12,
                         "tickSize": {"condition": {"test": "abs(datum.value*5 - round(datum.value*5)) < 0.01", "value": -6}, "value": -3},
                         "title": "Δ mag", "titleFontSize": 23, "titleAngle": 270, "titlePadding": 30}}
        }
      },
      {
        "data": {"name": "geo"},
        "mark": {"type": "circle", "color": "#33c866", "size": 46, "opacity": 1},
        "encoding": {
          "x": {"field": "x", "type": "quantitative", "scale": {"domain": [6.0, 30.03], "nice": false, "zero": false},
                "axis": {"orient": "bottom", "values": [7,8,9,10,11,12,13,14,15,16,17,18,19,20,21,22,23,24,25,26,27,28,29],
                         "labelExpr": "datum.value % 5 === 0 ? '' + datum.value : ''", "labelPadding": 14,
                         "tickSize": {"condition": {"test": "datum.value % 5 === 0", "value": -7}, "value": -3.5},
                         "title": "Geometry: 5 log D [Mpc] + 25", "titleFontSize": 23, "titleX": 160, "titlePadding": 0}},
          "y": {"field": "r", "type": "quantitative", "scale": {"domain": [-0.585, 0.59], "nice": false, "zero": false, "clamp": true},
                "axis": {"orient": "left", "values": [-0.55,-0.5,-0.45,-0.4,-0.35,-0.3,-0.25,-0.2,-0.15,-0.1,-0.05,0,0.05,0.1,0.15,0.2,0.25,0.3,0.35,0.4,0.45,0.5,0.55],
                         "labelExpr": "abs(datum.value*5 - round(datum.value*5)) < 0.01 ? (datum.value < -0.01 ? '-' + format(-datum.value, '.1f') : format(datum.value, '.1f')) : ''",
                         "labelFontSize": 9, "labelPadding": 9, "title": null,
                         "tickSize": {"condition": {"test": "abs(datum.value*5 - round(datum.value*5)) < 0.01", "value": -6}, "value": -3}}}
        }
      }
    ]
  },
  {
    "width": 345, "height": 118,
    "layer": [
      {
        "data": {"values": [{"t": "(V-I)", "x": 0.3536, "y": -0.737}]},
        "mark": {"type": "text", "font": "Liberation Serif", "fontWeight": "bold", "fontSize": 26, "color": "#222222", "align": "center", "baseline": "middle"},
        "encoding": {
          "x": {"field": "x", "type": "quantitative", "scale": {"domain": [0, 1]}, "axis": null},
          "y": {"field": "y", "type": "quantitative", "scale": {"domain": [0, 1]}, "axis": null},
          "text": {"field": "t"}
        }
      },
      {
        "data": {"values": [{"t": "o", "x": 0.45, "y": -0.79}]},
        "mark": {"type": "text", "font": "Liberation Serif", "fontStyle": "italic", "fontWeight": "bold", "fontSize": 15, "color": "#222222", "align": "center", "baseline": "middle"},
        "encoding": {
          "x": {"field": "x", "type": "quantitative", "scale": {"domain": [0, 1]}, "axis": null},
          "y": {"field": "y", "type": "quantitative", "scale": {"domain": [0, 1]}, "axis": null},
          "text": {"field": "t"}
        }
      }
    ]
  }
]
}
